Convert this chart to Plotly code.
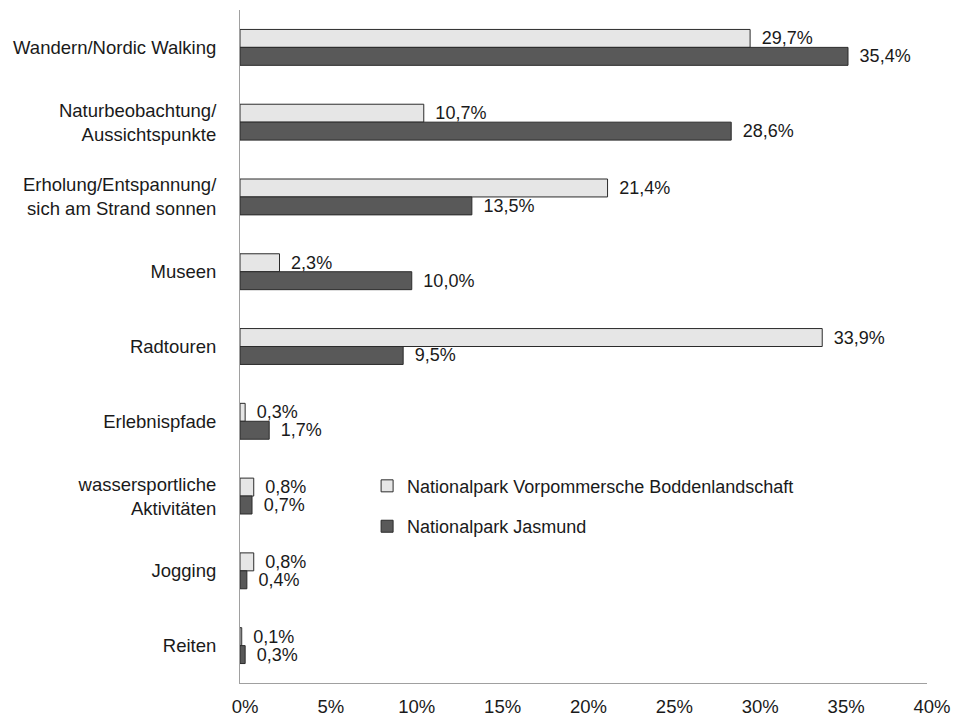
import plotly.graph_objects as go

categories = [
    "Wandern/Nordic Walking",
    "Naturbeobachtung/<br>Aussichtspunkte",
    "Erholung/Entspannung/<br>sich am Strand sonnen",
    "Museen",
    "Radtouren",
    "Erlebnispfade",
    "wassersportliche<br>Aktivitäten",
    "Jogging",
    "Reiten",
]
vorpommern = [29.7, 10.7, 21.4, 2.3, 33.9, 0.3, 0.8, 0.8, 0.1]
jasmund = [35.4, 28.6, 13.5, 10.0, 9.5, 1.7, 0.7, 0.4, 0.3]
tick_vals = [0, 5, 10, 15, 20, 25, 30, 35, 40]
tick_text = ["0%", "5%", "10%", "15%", "20%", "25%", "30%", "35%", "40%"]

font_family = "Liberation Sans, Arial, sans-serif"
label_tpl = "\u00a0\u2009%{x:.1f}%"

fig = go.Figure()
fig.add_trace(go.Bar(
    y=categories, x=vorpommern, orientation="h",
    name="Nationalpark Vorpommersche Boddenlandschaft",
    legendgroup="a",
    marker=dict(color="#e6e6e6", line=dict(color="#2b2b2b", width=1)),
    texttemplate=label_tpl, textposition="outside", constraintext="none",
    textfont=dict(size=18, color="#1a1a1a"), cliponaxis=False,
))
fig.add_trace(go.Bar(
    y=categories, x=jasmund, orientation="h",
    name="Nationalpark Jasmund",
    legendgroup="b",
    marker=dict(color="#595959", line=dict(color="#2b2b2b", width=1)),
    texttemplate=label_tpl, textposition="outside", constraintext="none",
    textfont=dict(size=18, color="#1a1a1a"), cliponaxis=False,
))

fig.update_layout(
    barmode="group",
    bargap=0.52,
    bargroupgap=0,
    separators=",.",
    width=954, height=719,
    margin=dict(l=240, r=27, t=10, b=36),
    plot_bgcolor="white", paper_bgcolor="white",
    font=dict(family=font_family, size=18, color="#1a1a1a"),
    showlegend=True,
    legend=dict(
        x=0.185, y=0.32, xanchor="left", yanchor="top",
        traceorder="grouped", tracegroupgap=14,
        font=dict(size=18), bgcolor="rgba(0,0,0,0)",
    ),
    uniformtext=dict(mode=False),
)
fig.update_xaxes(
    range=[0, 40], tickvals=tick_vals, ticktext=tick_text,
    showgrid=False, zeroline=False, showline=True, linecolor="#a0a0a0",
    linewidth=1, ticks="", ticklabelstandoff=7, ticklabelshift=5,
    automargin=False, tickfont=dict(size=18.5),
)
fig.update_yaxes(
    autorange="reversed", showgrid=False, zeroline=False,
    showline=True, linecolor="#a0a0a0", linewidth=1,
    ticks="", ticklabelstandoff=19, automargin=False,
    tickfont=dict(size=18.5),
)

# drop the default body margin so the figure fills the window exactly
fig.write_html(
    "out.html",
    config={"displayModeBar": False},
    post_script="document.body.style.margin='0';document.body.style.overflow='hidden';",
)
